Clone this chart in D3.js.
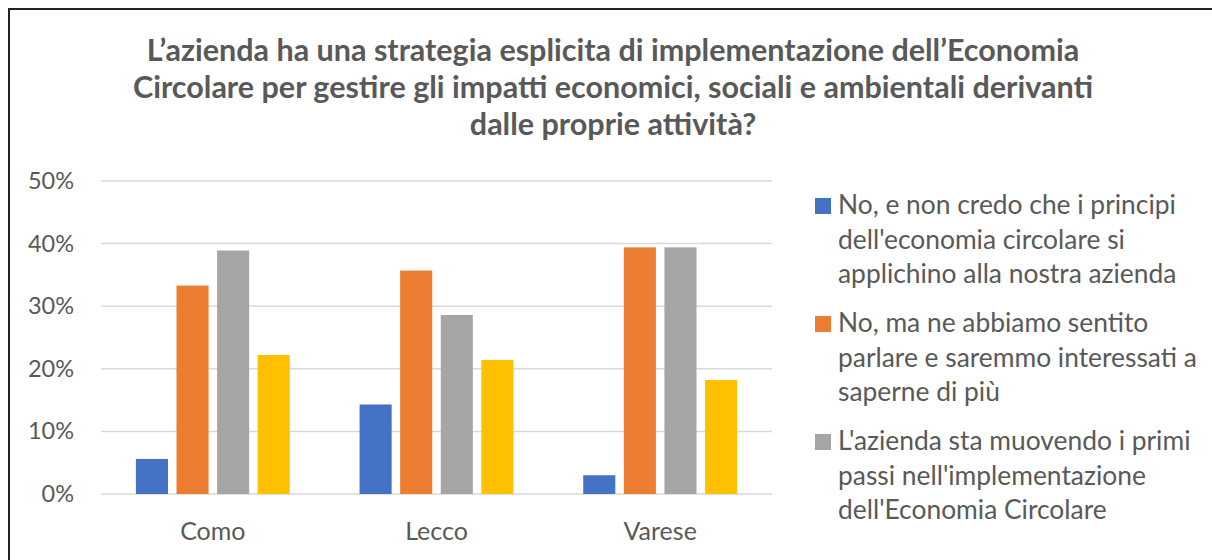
<!DOCTYPE html>
<html>
<head>
<meta charset="utf-8">
<script src="https://cdn.jsdelivr.net/npm/d3@7.9.0/dist/d3.min.js"></script>
<style>
  html, body { margin: 0; padding: 0; background: #fff; overflow: hidden; }
  svg { display: block; font-family: Lato, "Open Sans", sans-serif; }
</style>
</head>
<body>
<svg id="chart" width="1212" height="560"></svg>
<script>
const titleLines = [
  'L\u2019azienda ha una strategia esplicita di implementazione dell\u2019Economia',
  'Circolare per gestire gli impatti economici, sociali e ambientali derivanti',
  'dalle proprie attivit\u00e0?'
];
const provinces = ['Como', 'Lecco', 'Varese'];
const seriesNames = [
  ['No, e non credo che i principi', 'dell\'economia circolare si', 'applichino alla nostra azienda'],
  ['No, ma ne abbiamo sentito', 'parlare e saremmo interessati a', 'saperne di pi\u00f9'],
  ['L\'azienda sta muovendo i primi', 'passi nell\'implementazione', 'dell\'Economia Circolare'],
  ['S\u00ec']
];
const colors = ['#4472C4', '#ED7D31', '#A5A5A5', '#FFC000'];
// percentages per series, in province order
const seriesNo = [5.6, 14.3, 3.0];
const seriesInteressati = [33.3, 35.7, 39.4];
const seriesPrimiPassi = [38.9, 28.6, 39.4];
const seriesQuarta = [22.2, 21.4, 18.2];
const yTicks = [0, 10, 20, 30, 40, 50];

const allSeries = [seriesNo, seriesInteressati, seriesPrimiPassi, seriesQuarta];
const svg = d3.select('#chart');

// outer frame (top + left border visible)
svg.append('path')
  .attr('d', 'M9,600 L9,9 L1220,9')
  .attr('fill', 'none')
  .attr('stroke', '#222')
  .attr('stroke-width', 2);

// title, fitted to the reference width
const title = svg.append('text')
  .attr('text-anchor', 'middle')
  .attr('fill', '#595959')
  .attr('font-weight', 700)
  .attr('font-size', 24);
titleLines.forEach((t, i) => {
  title.append('tspan').attr('x', 613).attr('y', 61 + i * 37).text(t);
});
const w0 = title.select('tspan').node().getComputedTextLength();
title.attr('font-size', 24 * 933 / w0);

const plotLeft = 101, plotRight = 772, plotTop = 181, plotBottom = 494;

const y = d3.scaleLinear().domain([0, 50]).range([plotBottom, plotTop]);
const x0 = d3.scaleBand().domain(provinces).range([plotLeft, plotRight]);
const x1 = d3.scaleBand().domain(d3.range(allSeries.length))
  .range([0, x0.bandwidth()])
  .paddingInner(0.21)
  .paddingOuter(0.86);

// gridlines
svg.append('g')
  .selectAll('line')
  .data(yTicks)
  .join('line')
  .attr('x1', plotLeft).attr('x2', plotRight)
  .attr('y1', d => y(d)).attr('y2', d => y(d))
  .attr('stroke', '#d9d9d9')
  .attr('stroke-width', 1.5);

// y axis labels
const yAxis = svg.append('g')
  .attr('transform', `translate(74,0)`)
  .call(d3.axisLeft(y).tickValues(yTicks).tickFormat(d => d + '%').tickSize(0).tickPadding(0));
yAxis.select('.domain').remove();
yAxis.selectAll('text')
  .attr('fill', '#595959')
  .attr('font-size', 23.5)
  .attr('font-family', 'Lato, "Open Sans", sans-serif');

// bars
allSeries.forEach((vals, s) => {
  svg.append('g')
    .selectAll('rect')
    .data(vals)
    .join('rect')
    .attr('x', (d, i) => x0(provinces[i]) + x1(s))
    .attr('width', x1.bandwidth())
    .attr('y', d => y(d))
    .attr('height', d => y(0) - y(d))
    .attr('fill', colors[s]);
});

// x axis labels
const xAxis = svg.append('g')
  .attr('transform', `translate(0,${plotBottom + 28})`)
  .call(d3.axisBottom(x0).tickSize(0).tickPadding(0));
xAxis.select('.domain').remove();
xAxis.selectAll('text')
  .attr('fill', '#595959')
  .attr('font-size', 25)
  .attr('font-family', 'Lato, "Open Sans", sans-serif');

// legend (the fourth entry falls below the visible area, as in the reference)
const legend = svg.append('g');
seriesNames.forEach((lines, i) => {
  const gy = 205 + i * 118;
  if (gy > 540) return;
  const g = legend.append('g').attr('transform', `translate(815,${gy})`);
  g.append('rect')
    .attr('x', 0).attr('y', -7)
    .attr('width', 16).attr('height', 16)
    .attr('fill', colors[i]);
  const t = g.append('text')
    .attr('class', 'legend-text')
    .attr('fill', '#595959')
    .attr('font-size', 22);
  lines.forEach((l, j) => {
    t.append('tspan').attr('x', 23).attr('y', 9 + j * 34.5).text(l);
  });
});
// scale legend text so the widest line matches the reference
const widest = d3.max(legend.selectAll('tspan').nodes(), n => n.getComputedTextLength());
legend.selectAll('.legend-text').attr('font-size', 22 * 359 / widest);
</script>
</body>
</html>
